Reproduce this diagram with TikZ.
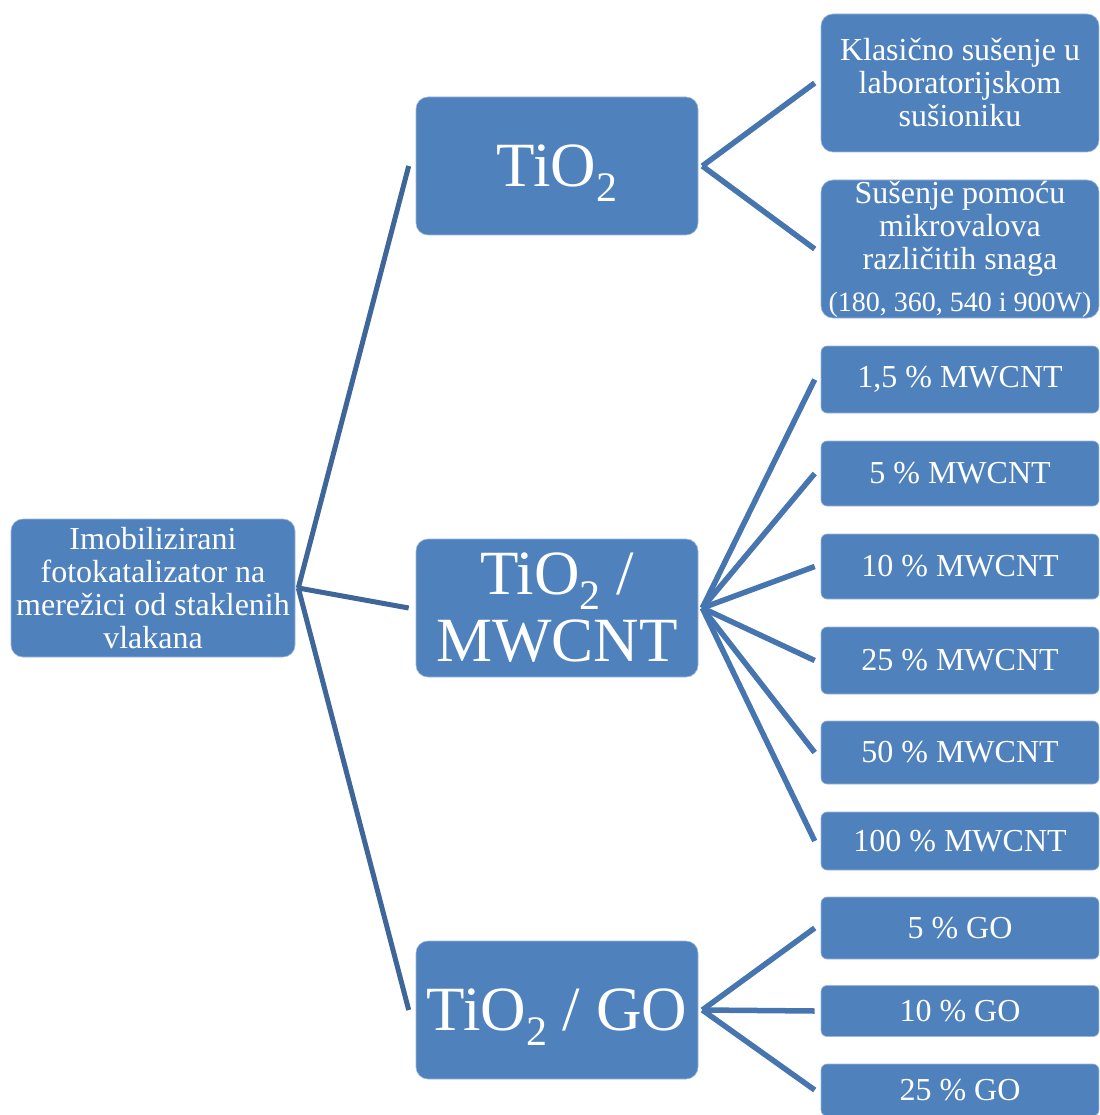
\documentclass[tikz,border=0pt]{standalone}
\usepackage{fontspec}
\setmainfont{Liberation Serif}
\definecolor{boxblue}{HTML}{4F81BD}
\definecolor{boxedge}{HTML}{9DB7DB}
\definecolor{rootlink}{HTML}{3F6698}
\definecolor{leaflink}{HTML}{4675AF}
\newcommand\chemsub[1]{\raisebox{-15pt}[0pt][0pt]{\fontsize{42}{42}\selectfont #1}}
\tikzset{
  basebox/.style={draw=boxedge, line width=0.6pt, fill=boxblue, text=white,
    inner sep=0pt, align=center, font=\fontsize{32}{33}\selectfont},
  rootbox/.style={basebox, rounded corners=12pt, minimum width=284pt, minimum height=138pt},
  bigbox/.style={basebox, rounded corners=12pt, minimum width=282pt, minimum height=138pt,
    font=\fontsize{63}{67}\selectfont},
  leafbox/.style={basebox, rounded corners=12pt, minimum width=278pt},
  thinbox/.style={basebox, rounded corners=6pt, minimum width=278pt},
  rlink/.style={draw=rootlink, line width=5pt},
  llink/.style={draw=leaflink, line width=5.5pt},
}
\begin{document}
\begin{tikzpicture}[x=1pt,y=-1pt]
\useasboundingbox (0,0) rectangle (1099,1115);
\clip (0,0) rectangle (1099,1115);

% root
\node[rootbox] (root) at (153,588) {Imobilizirani\\fotokatalizator na\\merežici od staklenih\\vlakana};

% level 1
\node[bigbox] (tio) at (557,166) {TiO\chemsub{2}};
\node[bigbox] (mw) at (557,608) {TiO\chemsub{2} /\\MWCNT};
\node[bigbox] (go) at (557,1010) {TiO\chemsub{2} / GO};

% level 2 under TiO2
\node[leafbox, minimum height=138pt] (k1) at (960,83) {Klasično sušenje u\\laboratorijskom\\sušioniku};
\node[leafbox, minimum height=138pt] (k2) at (960,249) {Sušenje pomoću\\mikrovalova\\različitih snaga\\[9pt]{\fontsize{28}{33}\selectfont (180, 360, 540 i 900W)}};

% level 2 under TiO2/MWCNT
\node[thinbox, minimum height=67pt] (m1) at (960,379.5) {1,5 \% MWCNT};
\node[thinbox, minimum height=65pt] (m2) at (960,473.5) {5 \% MWCNT};
\node[thinbox, minimum height=65pt] (m3) at (960,566.5) {10 \% MWCNT};
\node[thinbox, minimum height=67pt] (m4) at (960,660.5) {25 \% MWCNT};
\node[thinbox, minimum height=63pt] (m5) at (960,752.5) {50 \% MWCNT};
\node[thinbox, minimum height=58pt] (m6) at (960,841) {100 \% MWCNT};

% level 2 under TiO2/GO
\node[thinbox, minimum height=62pt] (g1) at (960,928) {5 \% GO};
\node[thinbox, minimum height=51pt] (g2) at (960,1011) {10 \% GO};
\node[thinbox, minimum height=52pt] (g3) at (960,1090) {25 \% GO};

% hub coordinates
\coordinate (rootout) at ([xshift=3pt]root.east);
\coordinate (tioin) at ([xshift=-7pt]tio.west);
\coordinate (mwin) at ([xshift=-7pt]mw.west);
\coordinate (goin) at ([xshift=-7pt]go.west);
\coordinate (tioout) at ([xshift=4pt]tio.east);
\coordinate (mwout) at ([xshift=4pt]mw.east);
\coordinate (goout) at ([xshift=4pt]go.east);
\foreach \n in {k1,k2,m1,m2,m3,m4,m5,m6,g1,g2,g3}{
  \coordinate (\n in) at ([xshift=-6pt]\n.west);
}

% connectors
\draw[rlink] (rootout) -- (tioin);
\draw[rlink] (rootout) -- (mwin);
\draw[rlink] (rootout) -- (goin);
\foreach \n in {k1,k2}{\draw[llink] (tioout) -- (\n in);}
\foreach \n in {m1,m2,m3,m4,m5,m6}{\draw[llink] (mwout) -- (\n in);}
\foreach \n in {g1,g2,g3}{\draw[llink] (goout) -- (\n in);}
\end{tikzpicture}
\end{document}
